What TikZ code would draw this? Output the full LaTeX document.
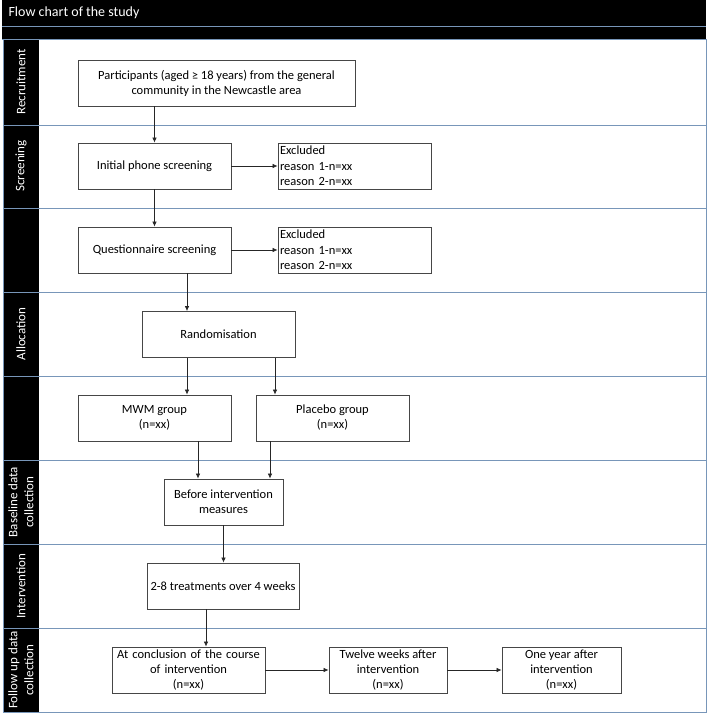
\documentclass[tikz,border=0pt]{standalone}
\usepackage{fontspec}
\setmainfont{Carlito}
\usetikzlibrary{arrows.meta}
\definecolor{lane}{RGB}{120,150,185}
\definecolor{boxline}{RGB}{70,70,70}
\tikzset{
  box/.style={draw=boxline, line width=0.8pt, fill=white, align=center, inner sep=2pt,
    font=\fontsize{12.5}{15}\selectfont},
  exbox/.style={draw=boxline, line width=0.8pt, fill=white, align=left, inner sep=2pt,
    font=\fontsize{12.5}{15.5}\selectfont, text width=149pt},
  arr/.style={draw=black!85, line width=0.7pt, -{Latex[length=5pt,width=4.5pt]}},
  lanelabel/.style={rotate=90, text=white, align=center, font=\fontsize{13}{16}\selectfont},
  sep/.style={draw=lane, line width=0.8pt}
}
\begin{document}
\begin{tikzpicture}[x=1pt,y=-1pt]
\useasboundingbox (0,0) rectangle (709,715);
% title bar
\fill[black] (2,0) rectangle (706,39);
\draw[sep] (2,26) -- (706,26);
\node[anchor=west, text=white, font=\fontsize{14}{16}\selectfont] (title) at (5,13) {Flow chart of the study};
% left column
\fill[black] (3,39) rectangle (39,712);
% outer frame
\draw[sep] (706,39) -- (706,712) -- (3,712) -- (3,39);
% lane separators
\foreach \y in {125,208,292,376,460,544,628} {
  \draw[sep] (3,\y) -- (706,\y);
}
\draw[sep] (2,39) -- (706,39);
% lane labels
\node[lanelabel] (lrec) at (21,82) {Recruitment};
\node[lanelabel] (lscr) at (21,166) {Screening};
\node[lanelabel] (lall) at (21,334) {Allocation};
\node[lanelabel] (lbas) at (21,502) {Baseline data\\collection};
\node[lanelabel] (lint) at (21,586) {Intervention};
\node[lanelabel] (lfol) at (21,670) {Follow up data\\collection};
% boxes
\node[box, minimum width=277, minimum height=46] (part) at (216.5,83) {Participants (aged ≥ 18 years) from the general\\community in the Newcastle area};
\node[box, minimum width=153, minimum height=46] (ini) at (154.5,166) {Initial phone screening};
\node[exbox, minimum height=46] (ex1) at (354.5,166) {Excluded\\reason 1-n=xx\\reason 2-n=xx};
\node[box, minimum width=153, minimum height=46] (que) at (154.5,250) {Questionnaire screening};
\node[exbox, minimum height=46] (ex2) at (354.5,250) {Excluded\\reason 1-n=xx\\reason 2-n=xx};
\node[box, minimum width=153, minimum height=46] (rand) at (218.5,334.5) {Randomisation};
\node[box, minimum width=153, minimum height=46] (mwm) at (154.5,418) {MWM group\\(n=xx)};
\node[box, minimum width=153, minimum height=46] (plac) at (332.5,418) {Placebo group\\(n=xx)};
\node[box, minimum width=119, minimum height=46] (bef) at (223.5,502) {Before intervention\\measures};
\node[box, minimum width=152, minimum height=46] (trt) at (223,586) {2-8 treatments over 4 weeks};
\node[box, minimum width=153, minimum height=46, text width=149pt] (conc) at (188.5,670) {At conclusion of the course\\of intervention\\(n=xx)};
\node[box, minimum width=118, minimum height=46] (twel) at (388,670) {Twelve weeks after\\intervention\\(n=xx)};
\node[box, minimum width=119, minimum height=46] (year) at (561.5,670) {One year after\\intervention\\(n=xx)};
% connectors
\draw[arr] (part.south -| ini.north) -- (ini.north);
\draw[arr] (ini.east) -- (ex1.west);
\draw[arr] (ini.south) -- (que.north);
\draw[arr] (que.east) -- (ex2.west);
\draw[arr] (que.south -| 187,0) -- (rand.north -| 187,0);
\draw[arr] (rand.south -| 187,0) -- (mwm.north -| 187,0);
\draw[arr] (rand.south -| 275,0) -- (plac.north -| 275,0);
\draw[arr] (mwm.south -| 198,0) -- (bef.north -| 198,0);
\draw[arr] (plac.south -| 270,0) -- (bef.north -| 270,0);
\draw[arr] (bef.south) -- (trt.north -| bef.south);
\draw[arr] (trt.south -| 206,0) -- (conc.north -| 206,0);
\draw[arr] (conc.east) -- (twel.west);
\draw[arr] (twel.east) -- (year.west);
\end{tikzpicture}
\end{document}
